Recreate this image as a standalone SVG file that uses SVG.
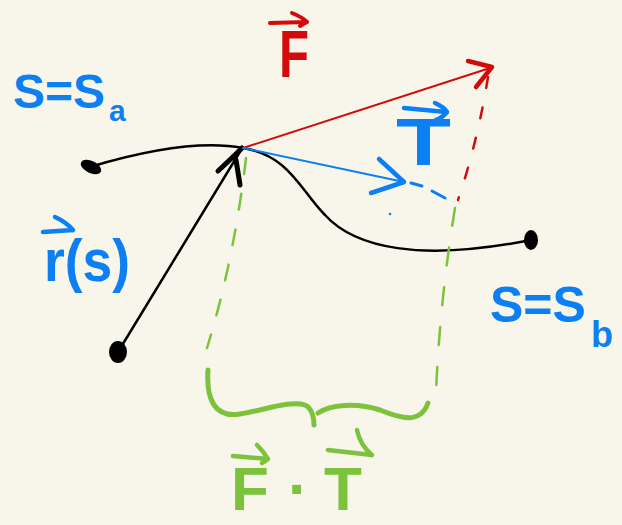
<svg xmlns="http://www.w3.org/2000/svg" width="622" height="525" viewBox="0 0 622 525">
<style>
.bg{fill:#f8f6ea}
.blk{fill:none;stroke:#000;stroke-width:2.5;stroke-linecap:round;stroke-linejoin:round}
.red{fill:none;stroke:#d20a0a;stroke-linecap:round;stroke-linejoin:round}
.blu{fill:none;stroke:#0c80f2;stroke-linecap:round;stroke-linejoin:round}
.grn{fill:none;stroke:#7cc23c;stroke-linecap:round;stroke-linejoin:round}
.lbl{font-family:"Liberation Sans","DejaVu Sans",sans-serif;font-weight:bold}
.tb{fill:#0c80f2}
.tr{fill:#d20a0a}
.tg{fill:#7cc23c}
</style>
<rect class="bg" x="0" y="0" width="622" height="525"/>
<g id="connectors">
  <path id="curve" class="blk" d="M90,167 C140,152 200,140 243,148 C290,156 300,190 325,215 C355,248 420,262 531,240"/>
  <path id="r-vector" class="blk" d="M118,352 L241,150"/>
  <path class="blk" style="stroke-width:5" d="M218,171 Q232,158 242,148 M236,160 Q238,172 240,185"/>
  <path id="F-vector" class="red" style="stroke-width:2" d="M243,148 L490,68"/>
  <path class="red" style="stroke-width:4.5" d="M468,61 L492,67 L476,87"/>
  <path id="F-drop" class="red" style="stroke-width:2.5" stroke-dasharray="11,20" d="M488,77 Q478,140 458,200"/>
  <path id="T-vector" class="blu" style="stroke-width:2" d="M243,148 L404,182"/>
  <path class="blu" style="stroke-width:4.5" d="M379,159 L404,182 L371,193"/>
  <path class="blu" style="stroke-width:3" d="M411,183 L422,186 M432,191 L445,198"/>
  <circle class="tb" cx="390" cy="214" r="1.3"/>
  <path id="proj-left" class="grn" style="stroke-width:2.5" stroke-dasharray="16,20" d="M246,158 Q234,260 207,348"/>
  <path id="proj-right" class="grn" style="stroke-width:2.5" stroke-dasharray="18,22" d="M455,208 Q440,300 436,392"/>
  <path id="brace" class="grn" style="stroke-width:5" d="M208,370 C206,400 215,418 240,414 C265,410 290,400 305,405 C312,408 314,418 314,425 M318,413 C330,405 355,402 380,410 C400,418 420,425 428,403"/>
</g>
<g id="start-point"><ellipse cx="91" cy="167" rx="11" ry="6" transform="rotate(25 91 167)" fill="#000"/></g>
<g id="end-point"><ellipse cx="531" cy="240" rx="7" ry="10" fill="#000"/></g>
<g id="origin"><ellipse cx="118" cy="352" rx="9" ry="11" fill="#000"/></g>
<g id="label-sa">
  <text class="lbl tb" x="13" y="108" font-size="48">S=S</text>
  <text class="lbl tb" x="109" y="121" font-size="30">a</text>
</g>
<g id="label-sb">
  <text class="lbl tb" x="490" y="322" font-size="50">S=S</text>
  <text class="lbl tb" x="591" y="347" font-size="36">b</text>
</g>
<g id="label-F">
  <text class="lbl tr" x="279" y="77" font-size="66" textLength="30" lengthAdjust="spacingAndGlyphs">F</text>
  <path class="red" style="stroke-width:4" d="M270,23 L307,22 M292,13 Q302,17 307,22 Q303,24 300,26"/>
</g>
<g id="label-T">
  <text class="lbl tb" x="396" y="165" font-size="66" textLength="55" lengthAdjust="spacingAndGlyphs">T</text>
  <path class="blu" style="stroke-width:4.5" d="M404,108 L446,112 M435,103 Q444,107 447,112 Q442,118 436,120"/>
</g>
<g id="label-r">
  <text class="lbl tb" x="44" y="281" font-size="60" textLength="86" lengthAdjust="spacingAndGlyphs">r(s)</text>
  <path class="blu" style="stroke-width:4.5" d="M43,232 L73,230 M55,217 Q66,222 73,230"/>
</g>
<g id="label-FdotT">
  <text class="lbl tg" font-size="62"><tspan x="231" y="510">F</tspan><tspan x="288" y="510">·</tspan><tspan x="324" y="510">T</tspan></text>
  <path class="grn" style="stroke-width:4.5" d="M233,456 L268,459 M257,445 Q264,452 268,459 Q266,461 262,463"/>
  <path class="grn" style="stroke-width:4.5" d="M328,450 L372,455 M357,430 Q360,445 372,455"/>
</g>
</svg>
